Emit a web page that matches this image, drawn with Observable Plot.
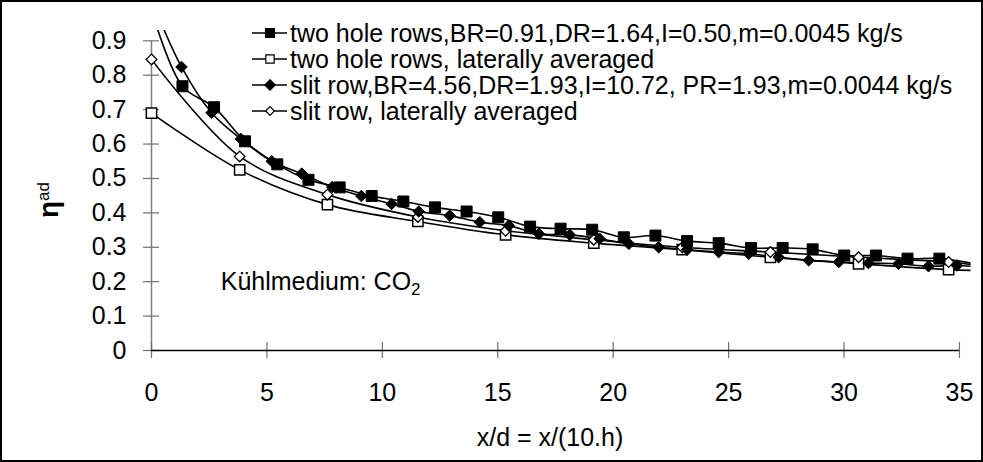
<!DOCTYPE html>
<html>
<head>
<meta charset="utf-8">
<script src="https://cdn.jsdelivr.net/npm/d3@7"></script>
<script src="https://cdn.jsdelivr.net/npm/@observablehq/plot@0.6"></script>
<style>
  html, body { margin: 0; padding: 0; background: white; }
  #chart { width: 983px; height: 462px; }
</style>
</head>
<body>
<div id="chart"></div>
<script>
// ---- data ----
const seriesNames = [
  "two hole rows,BR=0.91,DR=1.64,I=0.50,m=0.0045 kg/s",
  "two hole rows, laterally averaged",
  "slit row,BR=4.56,DR=1.93,I=10.72, PR=1.93,m=0.0044 kg/s",
  "slit row, laterally averaged"
];
const holeX = [0, 1.34, 2.71, 4.05, 5.45, 6.8, 8.15, 9.54, 10.91, 12.28, 13.65, 15.02, 16.4, 17.72, 19.09, 20.46, 21.83, 23.2, 24.57, 25.97, 27.34, 28.64, 30.01, 31.38, 32.75, 34.13, 35.5];
const holeY = [0.99, 0.768, 0.707, 0.608, 0.541, 0.496, 0.474, 0.449, 0.433, 0.416, 0.404, 0.387, 0.360, 0.354, 0.351, 0.329, 0.334, 0.318, 0.312, 0.298, 0.298, 0.294, 0.276, 0.276, 0.267, 0.267, 0.254];
const holeAvgX = [0, 3.82, 7.62, 11.54, 15.34, 19.16, 22.99, 26.81, 30.63, 34.53, 35.5];
const holeAvgY = [0.690, 0.525, 0.424, 0.375, 0.336, 0.312, 0.293, 0.271, 0.252, 0.235, 0.233];
const slitX = [0, 1.3, 2.6, 3.87, 5.21, 6.51, 7.83, 9.09, 10.4, 11.58, 12.92, 14.22, 15.48, 16.78, 18.12, 19.41, 20.68, 21.97, 23.2, 24.57, 25.87, 27.17, 28.47, 29.77, 31.06, 32.36, 33.66, 34.89, 35.5];
const slitY = [1.02, 0.824, 0.691, 0.615, 0.550, 0.514, 0.475, 0.449, 0.426, 0.404, 0.392, 0.373, 0.363, 0.339, 0.336, 0.325, 0.310, 0.300, 0.293, 0.286, 0.281, 0.271, 0.262, 0.257, 0.254, 0.252, 0.245, 0.247, 0.245];
const slitAvgX = [0, 3.82, 7.62, 11.54, 15.34, 19.16, 22.99, 26.81, 30.63, 34.53, 35.5];
const slitAvgY = [0.846, 0.564, 0.453, 0.388, 0.348, 0.322, 0.300, 0.286, 0.271, 0.257, 0.250];

const xTicks = [0, 5, 10, 15, 20, 25, 30, 35];
const xTickLabels = ["0", "5", "10", "15", "20", "25", "30", "35"];
const yTicks = [0, 0.1, 0.2, 0.3, 0.4, 0.5, 0.6, 0.7, 0.8, 0.9];
const yTickLabels = ["0", "0.1", "0.2", "0.3", "0.4", "0.5", "0.6", "0.7", "0.8", "0.9"];
const xLabel = "x/d = x/(10.h)";
const yLabelMain = "η";
const yLabelSup = "ad";
const noteMain = "Kühlmedium: CO";
const noteSub = "2";
const notePos = {x: 3.0, y: 0.2};

// ---- build tables ----
const zip = (xs, ys) => xs.map((x, i) => ({x, y: ys[i]}));
const hole = zip(holeX, holeY), holeAvg = zip(holeAvgX, holeAvgY);
const slit = zip(slitX, slitY), slitAvg = zip(slitAvgX, slitAvgY);
const yMax = 0.93, xMax = 35.5;
const visible = d => d.x <= 35 && d.y <= 0.9;

const FONT = "'Liberation Sans', Arial, sans-serif";
const FS = 25;
const lineOpts = {x: "x", y: "y", curve: "catmull-rom", stroke: "black", strokeWidth: 1.6, clip: true};

const chart = Plot.plot({
  width: 983, height: 462,
  marginLeft: 151, marginRight: 12.5, marginTop: 30, marginBottom: 112,
  x: {domain: [0, xMax]},
  y: {domain: [0, yMax]},
  style: {fontFamily: FONT, fontSize: FS + "px", background: "white", color: "black", overflow: "visible"},
  marks: [
    Plot.ruleX([0], {y1: 0, y2: 0.9, stroke: "#808080", strokeWidth: 1.5}),
    Plot.axisY({ticks: yTicks, tickFormat: (d, i) => yTickLabels[i], tickSize: 16, dx: 8, tickPadding: 17,
                stroke: "#707070", strokeWidth: 1.2, fill: "black", label: null, fontSize: FS}),
    Plot.axisX({ticks: xTicks, tickFormat: (d, i) => xTickLabels[i], tickSize: 16, dy: -8, tickPadding: 25,
                stroke: "#707070", strokeWidth: 1.2, fill: "black", label: null, fontSize: FS}),
    Plot.ruleY([0], {x1: 0, x2: 35, stroke: "black", strokeWidth: 1.5}),
    Plot.line(holeAvg, lineOpts),
    Plot.line(slitAvg, lineOpts),
    Plot.line(slit, lineOpts),
    Plot.line(hole, lineOpts),
    Plot.dot(holeAvg.filter(visible), {x: "x", y: "y", symbol: "square", r: 5.8, fill: "white", stroke: "black", strokeWidth: 1.5}),
    Plot.dot(slitAvg.filter(visible), {x: "x", y: "y", symbol: "diamond2", r: 4.8, fill: "white", stroke: "black", strokeWidth: 1.3}),
    Plot.dot(slit.filter(visible), {x: "x", y: "y", symbol: "diamond2", r: 5.2, fill: "black", stroke: "black", strokeWidth: 1}),
    Plot.dot(hole.filter(visible), {x: "x", y: "y", symbol: "square", r: 6.2, fill: "black", stroke: "black", strokeWidth: 1}),
    Plot.text([notePos], {x: "x", y: "y", text: () => noteMain, textAnchor: "start", fill: "black", fontSize: FS, className: "note"})
  ]
});
document.getElementById("chart").appendChild(chart);

// ---- decorations: subscript, axis labels, legend, outer border ----
const svg = d3.select(chart);
svg.selectAll("g.note text").append("tspan").attr("font-size", FS * 0.68).attr("dy", "0.3em").text(noteSub);

svg.append("text").attr("x", 550).attr("y", 446).attr("text-anchor", "middle")
  .attr("font-family", FONT).attr("font-size", FS).attr("fill", "black").text(xLabel);

const yl = svg.append("text").attr("transform", "translate(58,200) rotate(-90)").attr("text-anchor", "middle")
  .attr("font-family", FONT).attr("font-size", FS + 3).attr("font-weight", "bold").attr("fill", "black");
yl.append("tspan").text(yLabelMain);
yl.append("tspan").attr("font-size", FS * 0.68).attr("font-weight", "normal").attr("dy", "-0.55em").text(yLabelSup);

const legendSymbols = [
  {sym: d3.symbolSquare, size: 80, fill: "black"},
  {sym: d3.symbolSquare, size: 70, fill: "white"},
  {sym: d3.symbolDiamond2, size: 70, fill: "black"},
  {sym: d3.symbolDiamond2, size: 50, fill: "white"}
];
const lg = svg.append("g");
seriesNames.forEach((name, i) => {
  const cy = 33 + i * 26;
  lg.append("line").attr("x1", 252).attr("x2", 287).attr("y1", cy).attr("y2", cy).attr("stroke", "black").attr("stroke-width", 1.6);
  lg.append("path").attr("d", d3.symbol(legendSymbols[i].sym, legendSymbols[i].size)())
    .attr("transform", `translate(270,${cy})`).attr("fill", legendSymbols[i].fill).attr("stroke", "black").attr("stroke-width", 1.2);
  lg.append("text").attr("x", 290).attr("y", cy).attr("dy", "0.35em").attr("text-anchor", "start")
    .attr("font-family", FONT).attr("font-size", FS).attr("fill", "black").text(name);
});
svg.append("rect").attr("x", 1).attr("y", 1).attr("width", 981).attr("height", 460)
  .attr("fill", "none").attr("stroke", "black").attr("stroke-width", 2);
</script>
</body>
</html>
